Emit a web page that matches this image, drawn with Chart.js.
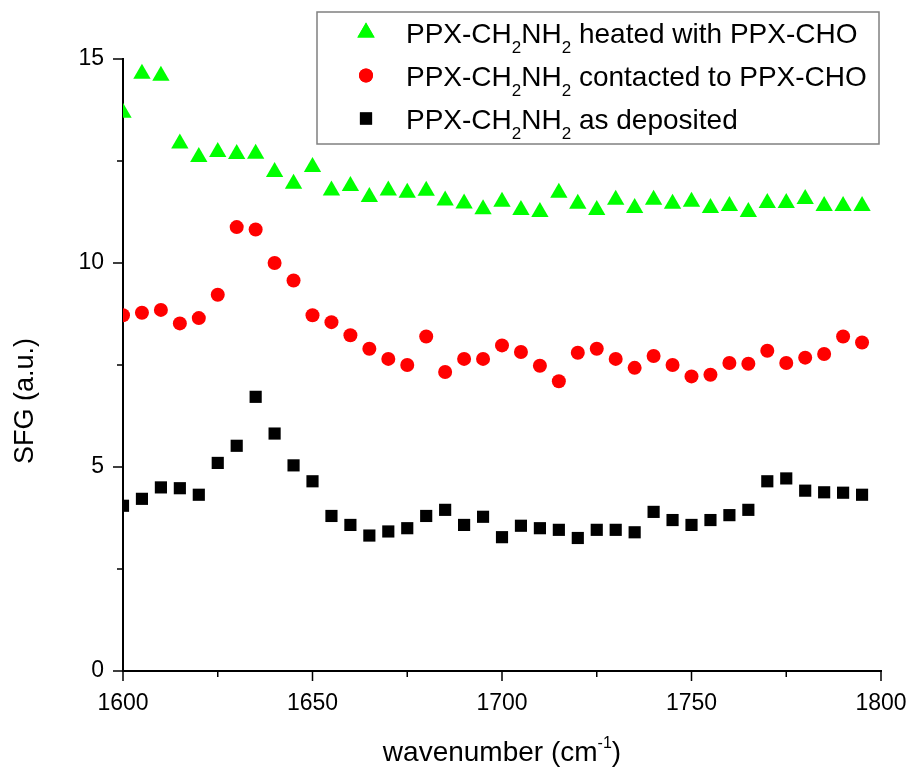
<!DOCTYPE html>
<html>
<head>
<meta charset="utf-8">
<script src="https://cdn.jsdelivr.net/npm/chart.js@4.4.1/dist/chart.umd.min.js"></script>
<style>
  body { margin: 0; background: #fff; }
  canvas { display: block; }
</style>
</head>
<body>
<canvas id="sfgChart" width="911" height="768"></canvas>
<script>
// wavenumber (cm-1)
const wavenumbers = [1600, 1605, 1610, 1615, 1620, 1625, 1630, 1635, 1640, 1645,
                     1650, 1655, 1660, 1665, 1670, 1675, 1680, 1685, 1690, 1695,
                     1700, 1705, 1710, 1715, 1720, 1725, 1730, 1735, 1740, 1745,
                     1750, 1755, 1760, 1765, 1770, 1775, 1780, 1785, 1790, 1795];

const heated = [13.68, 14.64, 14.59, 12.93, 12.6, 12.72, 12.67, 12.68, 12.23, 11.94,
                12.35, 11.78, 11.89, 11.62, 11.78, 11.72, 11.77, 11.53, 11.46, 11.32,
                11.5, 11.3, 11.25, 11.72, 11.45, 11.3, 11.55, 11.35, 11.55, 11.45,
                11.5, 11.35, 11.4, 11.25, 11.47, 11.47, 11.57, 11.4, 11.4, 11.4];

const contacted = [8.72, 8.78, 8.85, 8.52, 8.65, 9.22, 10.88, 10.82, 10.0, 9.57,
                   8.72, 8.55, 8.23, 7.9, 7.65, 7.5, 8.2, 7.33, 7.65, 7.65,
                   7.98, 7.82, 7.48, 7.1, 7.8, 7.9, 7.65, 7.43, 7.72, 7.5,
                   7.22, 7.26, 7.55, 7.53, 7.85, 7.55, 7.68, 7.77, 8.2, 8.05];

const deposited = [4.05, 4.22, 4.5, 4.48, 4.32, 5.1, 5.52, 6.72, 5.82, 5.04,
                   4.65, 3.8, 3.58, 3.32, 3.42, 3.5, 3.8, 3.95, 3.58, 3.78,
                   3.28, 3.56, 3.5, 3.46, 3.26, 3.46, 3.46, 3.4, 3.9, 3.7,
                   3.58, 3.7, 3.82, 3.95, 4.65, 4.72, 4.42, 4.38, 4.37, 4.32];

const xMajorTicks = [1600, 1650, 1700, 1750, 1800];
const xMinorTicks = [1625, 1675, 1725, 1775];
const yMajorTicks = [0, 5, 10, 15];
const yMinorTicks = [2.5, 7.5, 12.5];

// legend rows: text pieces, subscript parts at index 1 and 3
const legendRows = [
  { style: 'triangle', color: '#00ff00', radius: 10, parts: ['PPX-CH', '2', 'NH', '2', ' heated with PPX-CHO'] },
  { style: 'circle', color: '#ff0000', radius: 7, parts: ['PPX-CH', '2', 'NH', '2', ' contacted to PPX-CHO'] },
  { style: 'rect', color: '#000000', radius: 8.6, parts: ['PPX-CH', '2', 'NH', '2', ' as deposited'] }
];

const FONT = "'Liberation Sans', Arial, sans-serif";

function toPoints(ys) {
  return wavenumbers.map((w, i) => ({ x: w, y: ys[i] }));
}

const extras = {
  id: 'extras',
  afterDraw(chart) {
    const { ctx, chartArea, scales } = chart;
    const x = scales.x, y = scales.y;
    ctx.save();
    ctx.strokeStyle = '#000';
    ctx.lineWidth = 1.5;

    // tick marks, pointing outward
    ctx.beginPath();
    xMajorTicks.forEach(v => { const px = x.getPixelForValue(v); ctx.moveTo(px, chartArea.bottom); ctx.lineTo(px, chartArea.bottom + 10); });
    xMinorTicks.forEach(v => { const px = x.getPixelForValue(v); ctx.moveTo(px, chartArea.bottom); ctx.lineTo(px, chartArea.bottom + 6); });
    yMajorTicks.forEach(v => { const py = y.getPixelForValue(v); ctx.moveTo(chartArea.left, py); ctx.lineTo(chartArea.left - 10, py); });
    yMinorTicks.forEach(v => { const py = y.getPixelForValue(v); ctx.moveTo(chartArea.left, py); ctx.lineTo(chartArea.left - 6, py); });
    ctx.stroke();

    ctx.fillStyle = '#000';
    ctx.textBaseline = 'alphabetic';

    // x title with superscript
    const cx = (chartArea.left + chartArea.right) / 2;
    const a = 'wavenumber (cm', b = ')';
    ctx.font = '16px ' + FONT;
    const supW = ctx.measureText('-1').width;
    ctx.font = '28px ' + FONT;
    const total = ctx.measureText(a).width + supW + ctx.measureText(b).width;
    let tx = cx - total / 2;
    ctx.textAlign = 'left';
    ctx.fillText(a, tx, 761);
    tx += ctx.measureText(a).width;
    ctx.font = '16px ' + FONT;
    ctx.fillText('-1', tx, 748);
    tx += supW;
    ctx.font = '28px ' + FONT;
    ctx.fillText(b, tx, 761);

    // y title
    ctx.save();
    ctx.translate(33, 401);
    ctx.rotate(-Math.PI / 2);
    ctx.textAlign = 'center';
    ctx.font = '27px ' + FONT;
    ctx.fillText('SFG (a.u.)', 0, 0);
    ctx.restore();

    // legend box
    ctx.fillStyle = '#fff';
    ctx.fillRect(317, 12, 562, 132);
    ctx.strokeStyle = '#808080';
    ctx.lineWidth = 1.5;
    ctx.strokeRect(317, 12, 562, 132);

    const rowY = [32.5, 75.5, 118.5];
    legendRows.forEach((row, i) => {
      const cy = rowY[i];
      ctx.fillStyle = row.color;
      Chart.helpers.drawPoint(ctx, { pointStyle: row.style, radius: row.radius, rotation: 0, borderWidth: 0 }, 366, cy);
      ctx.fill();
      ctx.fillStyle = '#000';
      let px = 406;
      const base = cy + 0.358 * 28;
      row.parts.forEach((p, j) => {
        const sub = (j === 1 || j === 3);
        ctx.font = (sub ? '17px ' : '28px ') + FONT;
        ctx.fillText(p, px, sub ? base + 10 : base);
        px += ctx.measureText(p).width;
      });
    });
    ctx.restore();
  }
};

const tickFont = { family: FONT, size: 23 };

new Chart(document.getElementById('sfgChart').getContext('2d'), {
  type: 'scatter',
  data: {
    datasets: [
      { label: 'heated', data: toPoints(heated), pointStyle: 'triangle', pointRadius: 10,
        backgroundColor: '#00ff00', borderWidth: 0, pointBorderWidth: 0 },
      { label: 'contacted', data: toPoints(contacted), pointStyle: 'circle', pointRadius: 7,
        backgroundColor: '#ff0000', borderWidth: 0, pointBorderWidth: 0 },
      { label: 'deposited', data: toPoints(deposited), pointStyle: 'rect', pointRadius: 8.6,
        backgroundColor: '#000000', borderWidth: 0, pointBorderWidth: 0 }
    ]
  },
  options: {
    responsive: false,
    animation: false,
    layout: { padding: { top: 59, right: 30, left: 0, bottom: 0 } },
    plugins: { legend: { display: false }, tooltip: { enabled: false } },
    scales: {
      x: {
        type: 'linear', min: 1600, max: 1800,
        ticks: { stepSize: 50, font: tickFont, color: '#000', padding: 19, maxRotation: 0,
                 callback: v => String(v) },
        grid: { display: false, drawTicks: false },
        border: { color: '#000', width: 2 },
        afterFit(s) { s.height = 97; s.paddingLeft = 0; s.paddingRight = 0; }
      },
      y: {
        min: 0, max: 15,
        ticks: { stepSize: 5, font: tickFont, color: '#000', padding: 19,
                 callback: v => String(v) },
        grid: { display: false, drawTicks: false },
        border: { color: '#000', width: 2 },
        afterFit(s) { s.width = 123; s.paddingTop = 0; s.paddingBottom = 0; }
      }
    }
  },
  plugins: [extras]
});
</script>
</body>
</html>
